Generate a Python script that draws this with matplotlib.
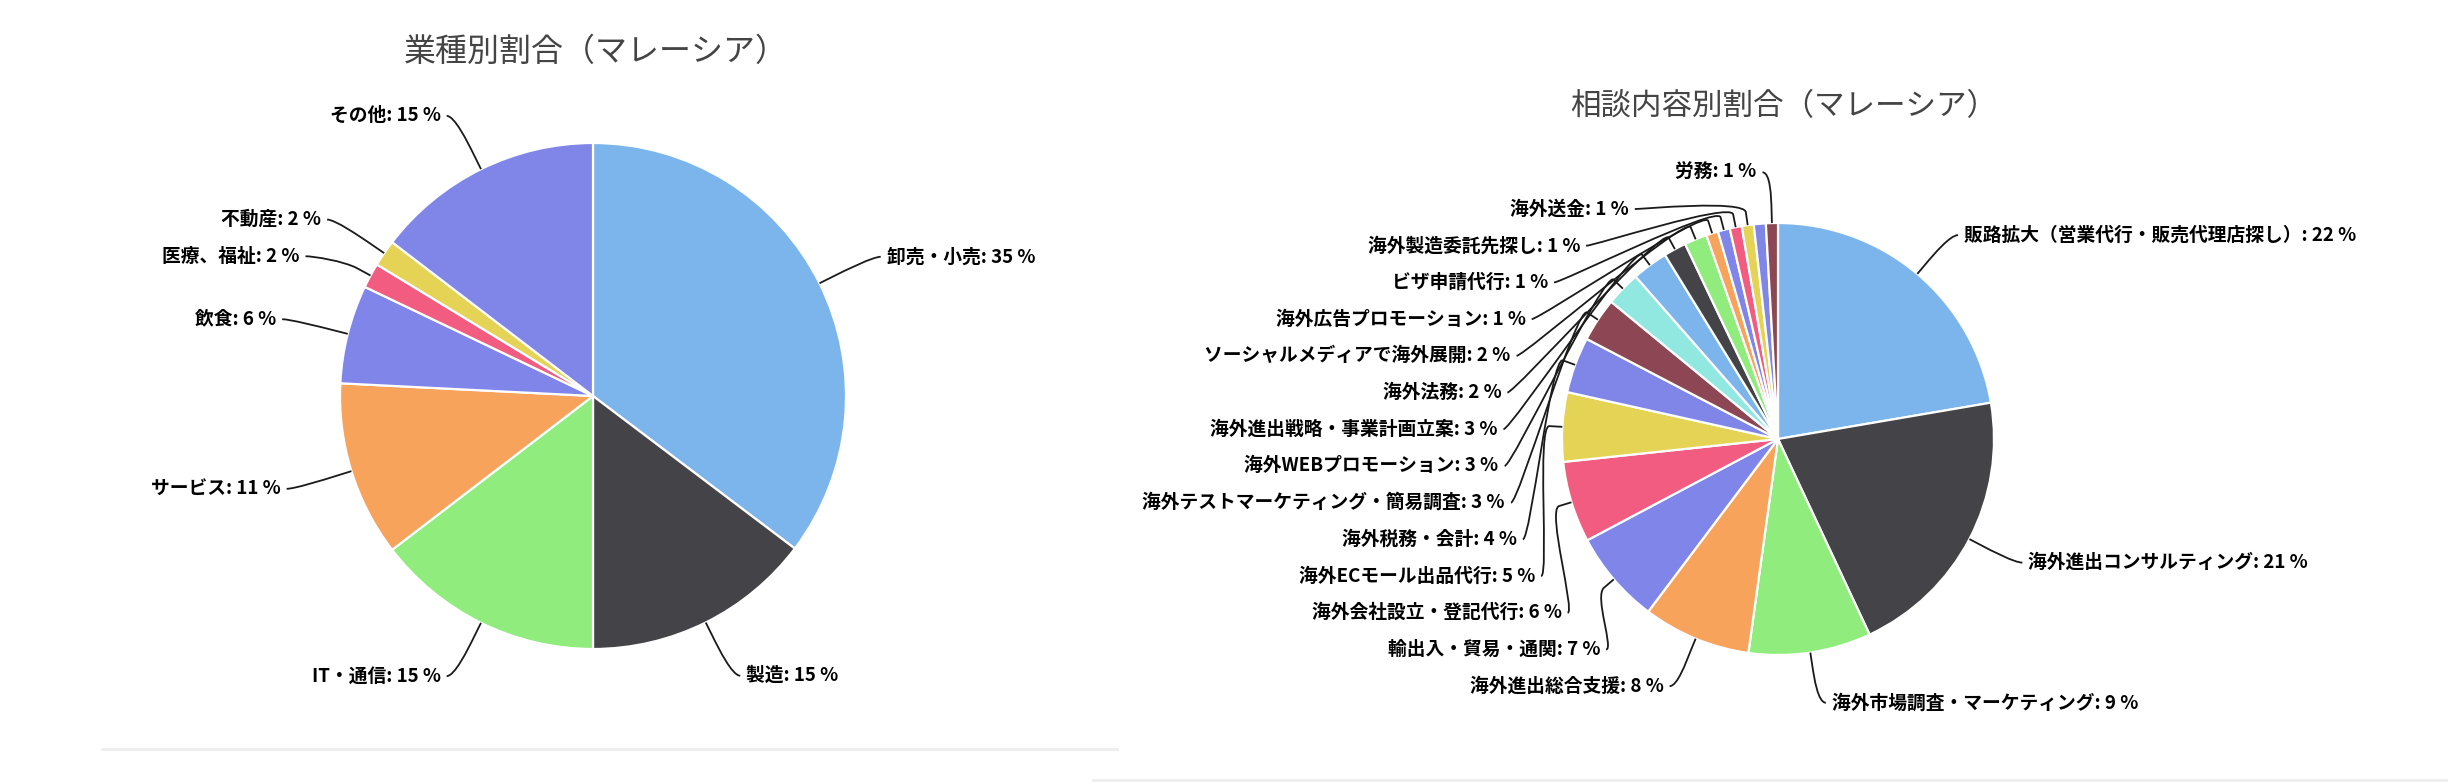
import numpy as np
import matplotlib
matplotlib.use('Agg')
import matplotlib.pyplot as plt
from matplotlib.path import Path
from matplotlib.patches import PathPatch
from matplotlib.lines import Line2D

plt.rcParams['font.family'] = ['Noto Sans CJK JP', 'DejaVu Sans']

W, H = 2448, 782

# highcharts 4 palette
COLORS = ['#7cb5ec', '#434348', '#90ed7d', '#f7a35c', '#8085e9',
          '#f15c80', '#e4d354', '#8085e8', '#8d4653', '#91e8e1']

industry_names = ['卸売・小売', '製造', 'IT・通信', 'サービス', '飲食',
                  '医療、福祉', '不動産', 'その他']
industry_share = [35.3, 14.7, 14.6, 11.2, 6.3, 1.6, 1.7, 14.6]

# one tiny slice has its label hidden in the original (overlap)
topic_names = ['販路拡大（営業代行・販売代理店探し）', '海外進出コンサルティング',
               '海外市場調査・マーケティング', '海外進出総合支援', '輸出入・貿易・通関',
               '海外会社設立・登記代行', '海外ECモール出品代行', '海外税務・会計',
               '海外テストマーケティング・簡易調査', '海外WEBプロモーション',
               '海外進出戦略・事業計画立案', '海外法務', 'ソーシャルメディアで海外展開',
               '海外広告プロモーション', 'ビザ申請代行', '海外製造委託先探し',
               '海外送金', '', '労務']
topic_share = [22.4, 20.8, 9.2, 8.1, 7.0, 6.1, 5.2, 4.2, 3.3, 2.6, 2.7,
               1.7, 1.7, 0.9, 0.9, 0.9, 0.9, 0.9, 0.9]


def draw_pie(ax, names, shares, cx, cy, r, gap=36.7, k=1.235):
    # cx, cy, r in pixels, y measured from the top
    total = float(sum(shares))
    ax.pie(shares, colors=[COLORS[i % len(COLORS)] for i in range(len(shares))],
           center=(cx, H - cy), radius=r, startangle=90, counterclock=False,
           wedgeprops=dict(edgecolor='white', linewidth=1.6), frame=True)

    R = k * r
    cum = np.cumsum([0] + list(shares))
    labels = []
    for i, (name, v) in enumerate(zip(names, shares)):
        if not name:
            continue
        th = 2 * np.pi * (cum[i] + v / 2) / total
        side = 1 if np.sin(th) >= 0 else -1
        labels.append(dict(name=name, pct=v / total * 100, th=th, side=side,
                           y=cy - R * np.cos(th)))

    # push overlapping labels downward on each side
    for side in (1, -1):
        grp = sorted([l for l in labels if l['side'] == side], key=lambda l: l['y'])
        prev = -1e9
        for l in grp:
            l['y'] = max(l['y'], prev + gap)
            prev = l['y']

    off = 0.06 * r
    for l in labels:
        th, s, y = l['th'], l['side'], l['y']
        dy = y - cy
        dx = np.sqrt(R ** 2 - dy ** 2) if abs(dy) < R else 0.0
        xc = cx + s * dx
        ex, ey = cx + r * np.sin(th), cy - r * np.cos(th)
        bx, by = cx + (r + off) * np.sin(th), cy - (r + off) * np.cos(th)
        verts = [(xc + s * 8, y), (xc, y), (2 * bx - ex, 2 * by - ey), (bx, by), (ex, ey)]
        codes = [Path.MOVETO, Path.CURVE4, Path.CURVE4, Path.CURVE4, Path.LINETO]
        verts = [(px, H - py) for px, py in verts]
        ax.add_patch(PathPatch(Path(verts, codes), fill=False, edgecolor='#1a1a1a',
                               linewidth=1.3))
        ax.text(xc + s * 14, H - y, '%s: %.0f %%' % (l['name'], l['pct']),
                ha='left' if s > 0 else 'right', va='center',
                fontsize=13.5, fontweight='bold', color='#000000')


fig = plt.figure(figsize=(W / 100, H / 100), dpi=100)
ax = fig.add_axes([0, 0, 1, 1])

draw_pie(ax, industry_names, industry_share, 593, 396, 253)
draw_pie(ax, topic_names, topic_share, 1778, 439, 216)

ax.text(596, H - 52, '業種別割合（マレーシア）', ha='center', va='center',
        fontsize=23, color='#444444')
ax.text(1784, H - 107, '相談内容別割合（マレーシア）', ha='center', va='center',
        fontsize=22, color='#444444')

# faint panel borders at the bottom
ax.add_line(Line2D([102, 1117], [H - 749, H - 749], color='#eeeeee', linewidth=2))
ax.add_line(Line2D([1093, W], [H - 780, H - 780], color='#eeeeee', linewidth=2))

ax.set_xlim(0, W)
ax.set_ylim(0, H)
ax.set_aspect('auto')
ax.axis('off')

fig.savefig('out.png', dpi=100, facecolor='white')
